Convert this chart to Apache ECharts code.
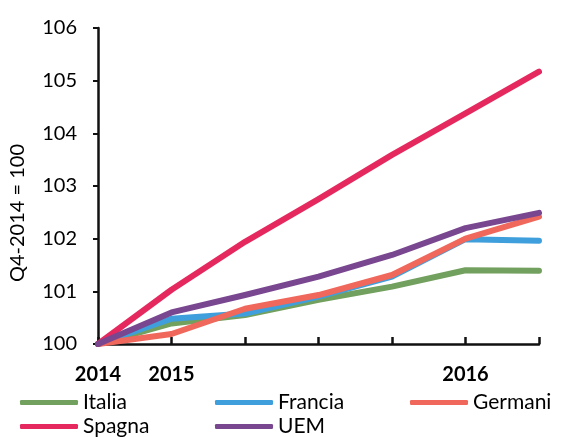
<!DOCTYPE html>
<html>
<head>
<meta charset="utf-8">
<style>
  html, body { margin: 0; padding: 0; background: #ffffff; }
  #chart { width: 561px; height: 437px; }
</style>
<script src="https://cdn.jsdelivr.net/npm/echarts@6/dist/echarts.min.js"></script>
</head>
<body>
<div id="chart"></div>
<script>
// Quarterly index, Q4-2014 = 100
const quarters = ['Q4-2014', 'Q1-2015', 'Q2-2015', 'Q3-2015', 'Q4-2015', 'Q1-2016', 'Q2-2016'];
const tickLabels = ['2014', '2015', '', '', '', '2016', ''];

const italia   = [100, 100.39, 100.55, 100.84, 101.09, 101.40, 101.39];
const francia  = [100, 100.48, 100.58, 100.90, 101.28, 101.99, 101.96];
const germania = [100, 100.19, 100.67, 100.93, 101.31, 102.00, 102.42];
const spagna   = [100, 101.03, 101.94, 102.75, 103.59, 104.38, 105.17];
const uem      = [100, 100.60, 100.93, 101.28, 101.69, 102.20, 102.49];

const seriesNames  = ['Italia', 'Francia', 'Germani', 'Spagna', 'UEM'];
const seriesValues = [italia, francia, germania, spagna, uem];
const seriesColors = ['#72a05e', '#3f9fdc', '#f0675c', '#e5295f', '#794690'];

const yTicks = { min: 100, max: 106, step: 1 };

const FONT = 'Lato';

const chart = echarts.init(document.getElementById('chart'), null, { renderer: 'canvas' });

// one legend block per entry so each sits in its own column
const legendSlots = [
  { left: 20,  top: 392 },
  { left: 215, top: 392 },
  { left: 410, top: 392 },
  { left: 20,  top: 416 },
  { left: 215, top: 416 }
];
const legends = seriesNames.map((name, i) => ({
  data: [name],
  left: legendSlots[i].left,
  top: legendSlots[i].top,
  padding: 0,
  icon: 'roundRect',
  itemWidth: 58,
  itemHeight: 5,
  selectedMode: false,
  textStyle: { fontFamily: FONT, fontSize: 21, color: '#000000', padding: [0, 0, 0, 0] }
}));

const option = {
  animation: false,
  backgroundColor: '#ffffff',
  grid: { left: 98, right: 22, top: 28, bottom: 93, containLabel: false },
  legend: legends,
  xAxis: {
    type: 'category',
    data: quarters,
    boundaryGap: false,
    axisLine: { lineStyle: { color: '#111111', width: 2.5 } },
    axisTick: { show: true, inside: true, length: 7, interval: 0, lineStyle: { color: '#111111', width: 2.5 } },
    axisLabel: {
      interval: 0,
      margin: 21,
      fontFamily: FONT,
      fontSize: 20,
      fontWeight: 'bold',
      color: '#000000',
      formatter: (v, idx) => tickLabels[idx]
    },
    splitLine: { show: false }
  },
  yAxis: {
    type: 'value',
    min: yTicks.min,
    max: yTicks.max,
    interval: yTicks.step,
    name: 'Q4-2014 = 100',
    nameLocation: 'middle',
    nameRotate: 90,
    nameGap: 70,
    nameTextStyle: { fontFamily: FONT, fontSize: 20, color: '#000000', padding: [0, 54, 0, 0] },
    axisLine: { show: true, lineStyle: { color: '#111111', width: 2.5 } },
    axisTick: { show: true, length: 5, lineStyle: { color: '#111111', width: 2 } },
    axisLabel: { margin: 21, fontFamily: FONT, fontSize: 20, color: '#000000' },
    splitLine: { show: false }
  },
  series: seriesNames.map((name, i) => ({
    name: name,
    type: 'line',
    data: seriesValues[i],
    symbol: 'none',
    smooth: false,
    color: seriesColors[i],
    lineStyle: { width: 6, color: seriesColors[i], join: 'round', cap: 'round' }
  }))
};

chart.setOption(option);
</script>
</body>
</html>
